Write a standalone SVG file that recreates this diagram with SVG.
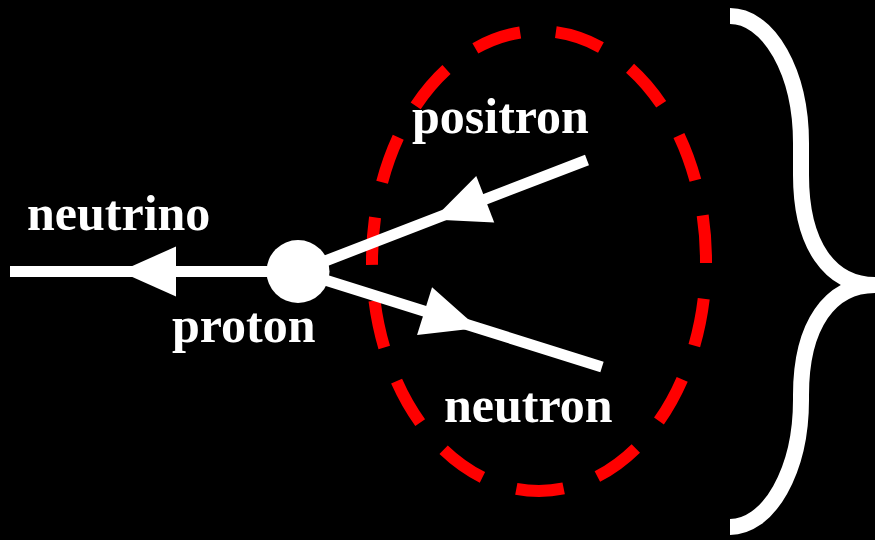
<svg xmlns="http://www.w3.org/2000/svg" width="875" height="540" viewBox="0 0 875 540">
  <style>
    .lbl { font-family: "Liberation Serif", "Times New Roman", serif; font-weight: bold; font-size: 50px; fill: #ffffff; }
    .wire { fill: none; stroke: #ffffff; stroke-width: 11; stroke-linecap: butt; marker-mid: url(#ah); }
  </style>
  <defs>
    <marker id="ah" markerUnits="userSpaceOnUse" viewBox="-56 -25 56 50" markerWidth="56" markerHeight="50" refX="0" refY="0" orient="auto" overflow="visible">
      <path d="M-56,-25 L0,0 L-56,25 Z" fill="#ffffff"/>
    </marker>
  </defs>
  <rect width="875" height="540" fill="#000000"/>

  <g id="region">
    <ellipse cx="539" cy="261" rx="167" ry="230" fill="none" stroke="#ff0000" stroke-width="12" pathLength="1260" stroke-dasharray="48 36" stroke-dashoffset="46"/>
  </g>

  <g id="brace">
    <path d="M730,16 A71,127 0 0 1 801,143 L801,175 C801,245 830,285 875,285 C830,285 801,325 801,395 L801,400 A71,127 0 0 1 730,527" fill="none" stroke="#ffffff" stroke-width="16"/>
  </g>

  <g id="connectors">
    <path class="wire" d="M298,271.5 L120,271.5 L10,271.5"/>
    <path class="wire" d="M587,160 L433,219.4 L298,271.5"/>
    <path class="wire" d="M298,271.5 L478,328 L602,367"/>
  </g>

  <g id="proton">
    <circle cx="298" cy="271.5" r="31.5" fill="#ffffff"/>
    <text class="lbl" x="172" y="342">proton</text>
  </g>
  <g id="neutrino">
    <text class="lbl" x="27" y="230">neutrino</text>
  </g>
  <g id="positron">
    <text class="lbl" x="412" y="133">positron</text>
  </g>
  <g id="neutron">
    <text class="lbl" x="444" y="422">neutron</text>
  </g>
</svg>
